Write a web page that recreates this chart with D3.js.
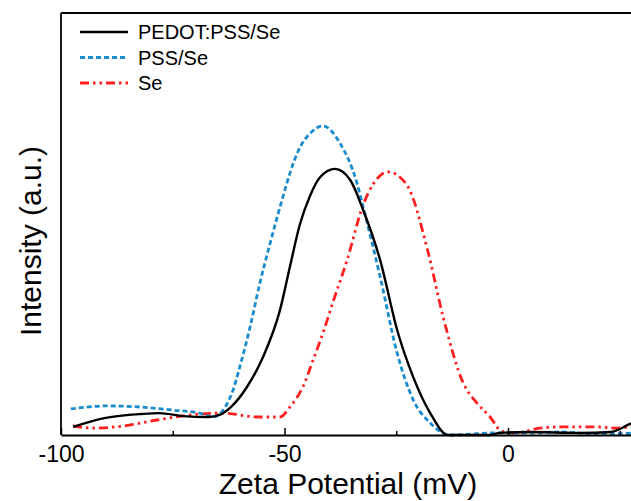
<!DOCTYPE html>
<html>
<head>
<meta charset="utf-8">
<script src="https://cdn.jsdelivr.net/npm/d3@7"></script>
<style>
  body { margin: 0; background: #fff; }
  text { font-family: "Liberation Sans", Arial, sans-serif; fill: #000; }
</style>
</head>
<body>
<div id="chart"></div>
<script>
// zeta potential curves, intensity in a.u.
const pedotX = [-97.3, -90, -82, -78, -72.7, -67, -64.4, -62, -58.4, -54.8, -51, -48.8, -46.6, -44.3, -42, -38.7, -35.3, -32.4, -28.6, -24.8, -21.2, -17.4, -13.4, -4, -1.8, 5, 16, 23, 27.3, 30];
const pedotY = [0.027, 0.057, 0.070, 0.073, 0.063, 0.060, 0.068, 0.093, 0.160, 0.260, 0.417, 0.560, 0.700, 0.797, 0.860, 0.887, 0.850, 0.750, 0.583, 0.350, 0.193, 0.073, 0, 0, 0.007, 0.010, 0.007, 0.010, 0.037, 0.053];

const pssX = [-97.8, -89.7, -82, -75, -69, -66, -63, -61.5, -60, -57.7, -55.5, -53.2, -51, -48, -46.5, -44.3, -41.4, -37.6, -33.8, -32.4, -28.6, -24.8, -21.2, -17.4, -13, -2.5, 5, 12, 19.8, 30];
const pssY = [0.087, 0.097, 0.093, 0.083, 0.073, 0.060, 0.100, 0.150, 0.227, 0.360, 0.507, 0.640, 0.760, 0.907, 0.960, 1.005, 1.030, 0.973, 0.840, 0.760, 0.527, 0.273, 0.117, 0.040, 0, 0.007, 0.007, 0.010, 0.003, 0.007];

const seX = [-97.3, -92.8, -86, -78.5, -71, -63.7, -56, -51, -48.8, -45.9, -43.6, -41.4, -39, -36, -32.4, -30, -26.8, -22.6, -18, -14.5, -10, -7, -4, -1.8, 0.4, 3.4, 7, 12.3, 19.8, 24.3, 30];
const seY = [0.030, 0.023, 0.030, 0.050, 0.067, 0.073, 0.060, 0.060, 0.093, 0.160, 0.250, 0.340, 0.450, 0.583, 0.767, 0.840, 0.877, 0.833, 0.617, 0.393, 0.173, 0.107, 0.060, 0.017, 0.007, 0.010, 0.023, 0.027, 0.027, 0.023, 0.037];

const seriesNames = ["PEDOT:PSS/Se", "PSS/Se", "Se"];
const majorTicks = [-100, -50, 0];
const minorTicks = [-75, -25, 25];

const width = 631;
const height = 501;
const plotLeft = 61, plotTop = 13, plotBottom = 435;

const svg = d3.select("#chart")
	.append("svg")
	.attr("width", width)
	.attr("height", height);

const x = d3.scaleLinear().domain([-100, 30]).range([plotLeft, plotLeft + 130 * 4.47]);
const y = d3.scaleLinear().domain([0, 1.4067]).range([plotBottom, plotTop]);

const series = [
	{ name: seriesNames[0], xs: pedotX, ys: pedotY, color: "#000", dash: null, sw: 2.4 },
	{ name: seriesNames[1], xs: pssX, ys: pssY, color: "#1a8ccc", dash: "5,3", sw: 2.8 },
	{ name: seriesNames[2], xs: seX, ys: seY, color: "#ff1f1f", dash: "9,4,2.5,4,2.5,4", sw: 2.8 }
];

const line = d3.line()
	.x((d) => x(d[0]))
	.y((d) => y(d[1]))
	.curve(d3.curveMonotoneX);

// draw black last so it sits on top
[series[2], series[1], series[0]].forEach((s) => {
	svg.append("path")
		.datum(s.xs.map((v, i) => [v, s.ys[i]]))
		.attr("d", line)
		.attr("fill", "none")
		.attr("stroke", s.color)
		.attr("stroke-width", s.sw)
		.attr("stroke-dasharray", s.dash);
});

// frame (left + top, right is off the picture)
svg.append("line")
	.attr("x1", plotLeft).attr("x2", plotLeft)
	.attr("y1", plotTop).attr("y2", plotBottom)
	.attr("stroke", "#000").attr("stroke-width", 1.8);
svg.append("line")
	.attr("x1", plotLeft).attr("x2", width)
	.attr("y1", plotTop).attr("y2", plotTop)
	.attr("stroke", "#000").attr("stroke-width", 1.8);

// x axis, ticks inward
const xAxis = svg.append("g")
	.attr("transform", "translate(0," + plotBottom + ")")
	.call(d3.axisBottom(x).tickValues(majorTicks).tickSizeInner(-7).tickSizeOuter(0).tickFormat((d) => String(d)));
xAxis.select(".domain").attr("stroke-width", 1.8);
xAxis.selectAll(".tick line").attr("stroke-width", 1.5);
xAxis.selectAll("text")
	.attr("y", 27)
	.attr("dy", 0)
	.style("font-size", "23px")
	.attr("font-family", null);

const minorAxis = svg.append("g")
	.attr("transform", "translate(0," + plotBottom + ")")
	.call(d3.axisBottom(x).tickValues(minorTicks).tickSizeInner(-4).tickSizeOuter(0).tickFormat(""));
minorAxis.select(".domain").remove();
minorAxis.selectAll(".tick line").attr("stroke-width", 1.5);

// axis titles
svg.append("text")
	.attr("x", 348)
	.attr("y", 494)
	.attr("text-anchor", "middle")
	.style("font-size", "30px")
	.text("Zeta Potential (mV)");

svg.append("text")
	.attr("transform", "translate(41,241) rotate(-90)")
	.attr("text-anchor", "middle")
	.style("font-size", "30px")
	.text("Intensity (a.u.)");

// legend
const legend = svg.append("g")
	.selectAll("g")
	.data(series)
	.enter()
	.append("g")
	.attr("transform", (d, i) => "translate(80," + (32 + i * 25.5) + ")");

legend.append("line")
	.attr("x1", 0).attr("x2", 48)
	.attr("stroke", (d) => d.color)
	.attr("stroke-width", (d) => d.sw)
	.attr("stroke-dasharray", (d) => d.dash);

legend.append("text")
	.attr("x", 58)
	.attr("dy", "0.35em")
	.style("font-size", "20px")
	.text((d) => d.name);
</script>
</body>
</html>
